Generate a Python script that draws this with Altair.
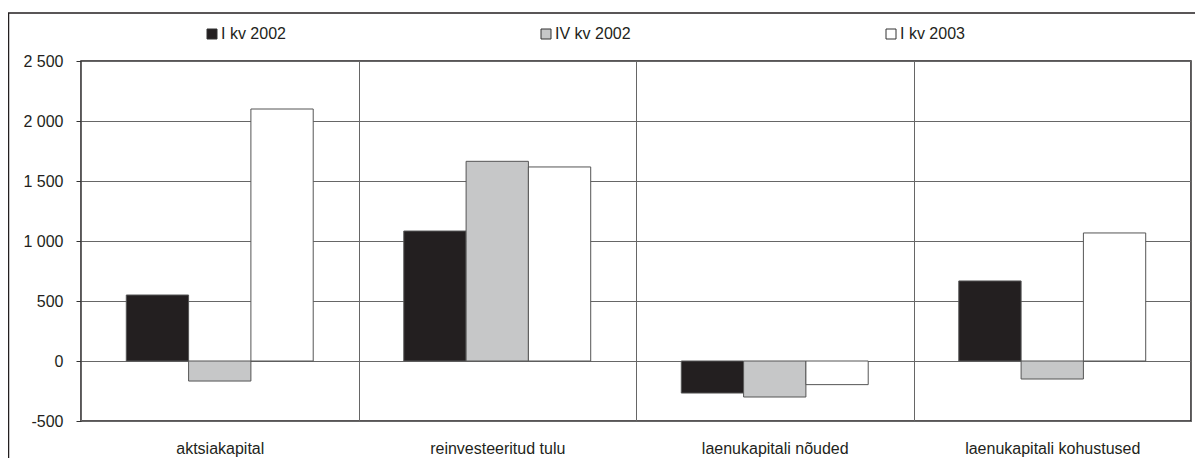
import altair as alt
import pandas as pd

categories = ["aktsiakapital", "reinvesteeritud tulu", "laenukapitali nõuded", "laenukapitali kohustused"]
series = ["I kv 2002", "IV kv 2002", "I kv 2003"]
values_i_kv_2002 = [550, 1083, -267, 667]
values_iv_kv_2002 = [-167, 1664, -300, -150]
values_i_kv_2003 = [2100, 1617, -197, 1067]
y_ticks = [-500, 0, 500, 1000, 1500, 2000, 2500]
colors = ["#231f20", "#c6c7c8", "#ffffff"]

rows = []
for s, vals in zip(series, [values_i_kv_2002, values_iv_kv_2002, values_i_kv_2003]):
    for c, v in zip(categories, vals):
        rows.append({"category": c, "series": s, "value": v})
df = pd.DataFrame(rows)

FONT = "Liberation Sans"
FS = 16
TXT = "#231f20"
W, H = 1110, 360

bars = alt.Chart(df).mark_bar(stroke="#555555", strokeWidth=1).encode(
    x=alt.X(
        "category:N",
        sort=categories,
        scale=alt.Scale(paddingInner=0, paddingOuter=0),
        axis=alt.Axis(
            title=None, ticks=False, domain=False, grid=True, tickBand="extent",
            labelPadding=19, labelAngle=0, labelFontSize=FS, labelFont=FONT,
            labelColor=TXT, labelLimit=400,
        ),
    ),
    xOffset=alt.XOffset(
        "series:N", sort=series,
        scale=alt.Scale(domain=series, paddingInner=0, paddingOuter=0.727),
    ),
    y=alt.Y(
        "value:Q",
        scale=alt.Scale(domain=[-500, 2500], nice=False, zero=True),
        axis=alt.Axis(
            title=None, values=y_ticks, domain=False, ticks=True, tickSize=5,
            tickColor="#333333", grid=True, labelPadding=13, labelFontSize=FS,
            labelFont=FONT, labelColor=TXT,
            labelExpr="abs(datum.value) >= 1000 ? floor(datum.value / 1000) + ' ' + format(datum.value % 1000, '03d') : '' + datum.value",
        ),
    ),
    fill=alt.Fill(
        "series:N",
        sort=series,
        scale=alt.Scale(domain=series, range=colors),
        legend=alt.Legend(
            title=None, orient="none", legendX=123, legendY=-35,
            direction="horizontal", symbolType="square", symbolSize=100,
            symbolStrokeColor="#333333", symbolStrokeWidth=1,
            labelFontSize=FS, labelFont=FONT, labelColor=TXT,
            columnPadding=252, labelOffset=1, padding=0,
        ),
    ),
)

frame = alt.Chart(pd.DataFrame({"k": [0]})).mark_rect(
    filled=False, stroke="#231f20", strokeWidth=1.5
).encode(
    x=alt.value(-72.5), x2=alt.value(1300), y=alt.value(-48), y2=alt.value(700)
)

chart = (
    alt.layer(frame, bars)
    .properties(
        width=W,
        height=H,
        autosize=alt.AutoSizeParams(type="none"),
        padding={"left": 73, "top": 53, "right": 4, "bottom": 37},
        background="white",
    )
    .configure_view(stroke="#231f20", strokeWidth=1.5)
    .configure_axis(gridColor="#666666", gridWidth=1, gridOpacity=1)
)

chart.save("out.html", embed_options={"renderer": "svg", "actions": False})
